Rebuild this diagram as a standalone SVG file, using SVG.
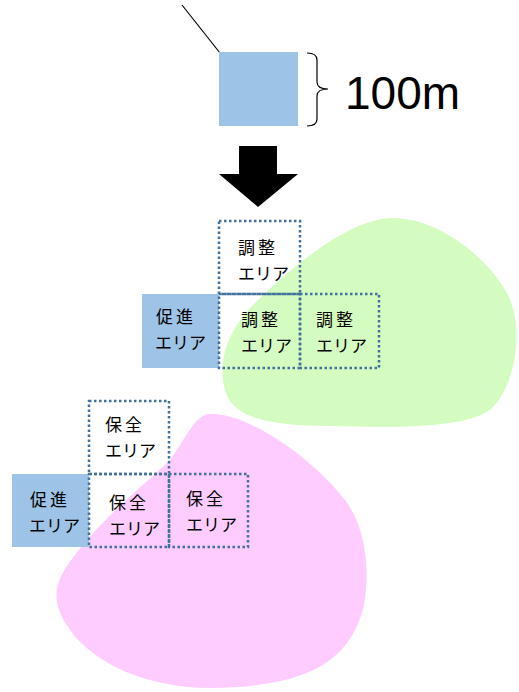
<svg xmlns="http://www.w3.org/2000/svg" width="519" height="692" viewBox="0 0 519 692">
<style>
.zone{fill:none;stroke:#41719C;stroke-width:2.5;stroke-dasharray:2.5 2.5}
.prom{fill:#9DC3E6}
.t{font-family:"Noto Sans CJK JP","Noto Sans",sans-serif;font-size:17px;fill:#000}
.j{letter-spacing:3px}
</style>
<rect width="519" height="692" fill="#fff"/>
<g id="blobs">
<path id="green-area" d="M393,218 C440,218 490,260 508,295 C525,330 515,385 492,408 C470,428 400,428 330,426 C270,426 232,418 225,390 C218,365 225,335 250,308 C280,278 345,218 393,218 Z" fill="#D4FCC0"/>
<path id="pink-area" d="M210,414 C245,412 310,455 345,500 C372,535 372,600 355,630 C335,670 290,687 210,688 C150,688 95,665 70,630 C48,600 55,580 75,555 C105,515 150,480 170,460 C185,440 195,414 210,414 Z" fill="#FECCFE"/>
</g>
<g id="top">
<line x1="182" y1="5" x2="220" y2="53" stroke="#000" stroke-width="1.2"/>
<rect id="unit-square" x="219" y="52" width="79" height="74" class="prom"/>
<path id="brace" d="M307,53 Q317,53 317,60 L317,82 Q317,89 328,89 Q317,89 317,96 L317,119 Q317,126 307,126" fill="none" stroke="#000" stroke-width="1.2"/>
<text x="345" y="109" font-family="'Liberation Sans',Arial,sans-serif" font-size="46">100m</text>
</g>
<g id="arrow">
<polygon points="239,146 277,146 277,174 298,174 258,207 219,174 239,174" fill="#000"/>
</g>
<g id="promo-1">
<rect x="142" y="294" width="77" height="74" class="prom"/>
<text class="t"><tspan class="j" x="156" y="323">促進</tspan><tspan x="155" y="349">エリア</tspan></text>
</g>
<g id="adjust-top">
<rect x="219" y="221" width="81" height="73" class="zone"/>
<text class="t"><tspan class="j" x="238" y="254">調整</tspan><tspan x="238" y="280">エリア</tspan></text>
</g>
<g id="adjust-mid">
<rect x="219" y="294" width="81" height="74" class="zone"/>
<text class="t"><tspan class="j" x="241" y="326">調整</tspan><tspan x="241" y="352">エリア</tspan></text>
</g>
<g id="adjust-right">
<rect x="300" y="294" width="79" height="74" class="zone"/>
<text class="t"><tspan class="j" x="316" y="326">調整</tspan><tspan x="316" y="352">エリア</tspan></text>
</g>
<g id="promo-2">
<rect x="12" y="474" width="77" height="73" class="prom"/>
<text class="t"><tspan class="j" x="30" y="506">促進</tspan><tspan x="29" y="532">エリア</tspan></text>
</g>
<g id="conserve-top">
<rect x="89" y="401" width="80" height="73" class="zone"/>
<text class="t"><tspan class="j" x="105" y="431">保全</tspan><tspan x="105" y="457">エリア</tspan></text>
</g>
<g id="conserve-mid">
<rect x="89" y="474" width="80" height="73" class="zone"/>
<text class="t"><tspan class="j" x="109" y="509">保全</tspan><tspan x="109" y="535">エリア</tspan></text>
</g>
<g id="conserve-right">
<rect x="169" y="474" width="79" height="73" class="zone"/>
<text class="t"><tspan class="j" x="186" y="505">保全</tspan><tspan x="186" y="531">エリア</tspan></text>
</g>
</svg>
